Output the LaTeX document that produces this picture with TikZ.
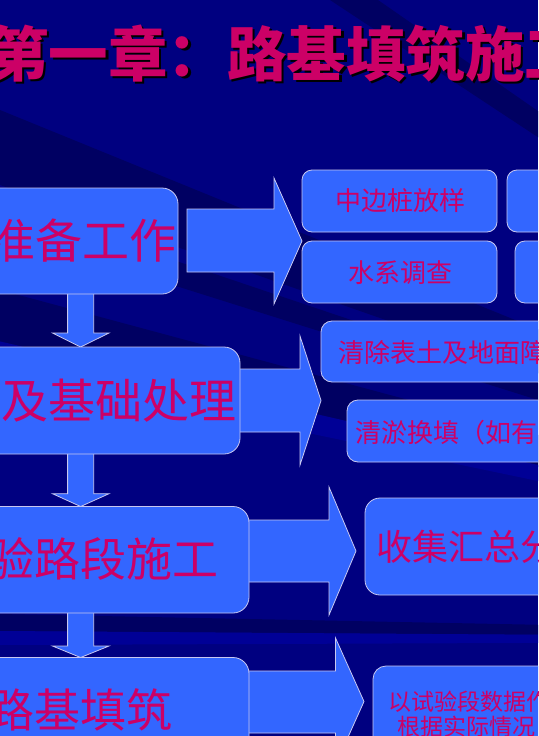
\documentclass[tikz,border=0pt]{standalone}
\usepackage{fontspec}
\newfontfamily\cjk{Noto Sans CJK SC}
\usetikzlibrary{calc}
\definecolor{bgbase}{RGB}{0,0,128}
\definecolor{bgdark}{RGB}{0,0,98}
\definecolor{bglight}{RGB}{0,0,150}
\definecolor{boxblue}{RGB}{51,102,255}
\definecolor{edgec}{RGB}{200,200,240}
\definecolor{txtc}{RGB}{204,0,102}
\begin{document}
\begin{tikzpicture}[x=1pt,y=-1pt,
  box/.style={fill=boxblue,draw=edgec,line width=0.8pt},
  blockarrow/.style={fill=boxblue,draw=edgec,line width=0.8pt,line join=miter},
  txt/.style={inner sep=0pt,text=txtc,anchor=base west},
  bigtxt/.style={txt,font=\cjk\fontsize{47}{47}\selectfont},
  midtxt/.style={txt,font=\cjk\fontsize{46}{46}\selectfont},
  smalltxt/.style={txt,font=\cjk\fontsize{26}{26}\selectfont},
  tinytxt/.style={txt,font=\cjk\fontsize{23}{23}\selectfont},
  titletxt/.style={inner sep=0pt,anchor=base west,font=\cjk\bfseries\fontsize{59.5}{59.5}\selectfont}]
\useasboundingbox (0,0) rectangle (538,736);
\clip (0,0) rectangle (538,736);
% background
\fill[bgbase] (0,0) rectangle (538,736);
\coordinate (C) at (1300,640);
\fill[bgdark] (C) -- ($(C)!4!(330,0)$) -- ($(C)!4!(378,0)$) -- cycle;
\fill[bgdark] (C) -- ($(C)!4!(0,110)$) -- ($(C)!4!(0,185)$) -- cycle;
\fill[bgdark] (C) -- ($(C)!4!(0,290)$) -- ($(C)!4!(0,345)$) -- cycle;
\fill[bgdark] (C) -- ($(C)!4!(538,383)$) -- ($(C)!4!(538,400)$) -- cycle;
\fill[bgdark] (C) -- ($(C)!4!(0,614)$) -- ($(C)!4!(0,631)$) -- cycle;
\fill[bglight] (C) -- ($(C)!4!(538,465)$) -- ($(C)!4!(538,481)$) -- cycle;
\fill[bglight] (C) -- ($(C)!4!(0,631)$) -- ($(C)!4!(0,645)$) -- cycle;
% title
\node[titletxt,text=black] (titleshadow) at (-8.5,78.5) {第一章：路基填筑施工};
\node[titletxt,text=txtc] (title) at (-11,76) {第一章：路基填筑施工};
% right block arrows
\draw[blockarrow] (187,209) -- (274,209) -- (274,178) -- (302,241) -- (274,304) -- (274,272) -- (187,272) -- cycle;
\draw[blockarrow] (230,369) -- (300,369) -- (300,336) -- (321,400.5) -- (300,465) -- (300,432) -- (230,432) -- cycle;
\draw[blockarrow] (240,520) -- (329,520) -- (329,487) -- (356,551) -- (329,615) -- (329,582) -- (240,582) -- cycle;
\draw[blockarrow] (240,671) -- (335.5,671) -- (335.5,638) -- (364,701.5) -- (335.5,765) -- (335.5,733) -- (240,733) -- cycle;
% down block arrows
\draw[blockarrow] (67.6,288) -- (67.6,333) -- (52.5,333) -- (80.6,347) -- (109,333) -- (93.7,333) -- (93.7,288) -- cycle;
\draw[blockarrow] (67.6,448) -- (67.6,493.7) -- (52.5,493.7) -- (80.6,506.5) -- (109,493.7) -- (93.7,493.7) -- (93.7,448) -- cycle;
\draw[blockarrow] (67.6,607) -- (67.6,646) -- (52.5,646) -- (80.6,657.5) -- (109,646) -- (93.7,646) -- (93.7,607) -- cycle;
% main boxes
\draw[box,rounded corners=16pt] (-30,188) rectangle (178,294);
\draw[box,rounded corners=16pt] (-30,347) rectangle (240,454);
\draw[box,rounded corners=16pt] (-30,506.5) rectangle (249,613);
\draw[box,rounded corners=16pt] (-30,657.5) rectangle (249,800);
% right boxes
\draw[box,rounded corners=10pt] (302,170) rectangle (497,232);
\draw[box,rounded corners=10pt] (302,241) rectangle (497,303);
\draw[box,rounded corners=10pt] (507,170) rectangle (600,232);
\draw[box,rounded corners=10pt] (515,241) rectangle (600,303);
\draw[box,rounded corners=11pt] (321,321) rectangle (600,382);
\draw[box,rounded corners=11pt] (347,400) rectangle (600,462);
\draw[box,rounded corners=15pt] (365,498) rectangle (600,595);
\draw[box,rounded corners=13pt] (373,666) rectangle (600,800);
% main texts
\node[bigtxt] (t1) at (-12,258) {准备工作};
\node[bigtxt] (t2) at (1,418) {及基础处理};
\node[midtxt] (t3) at (-12,576.5) {验路段施工};
\node[midtxt] (t4) at (-12,727.5) {路基填筑};
% right texts
\node[smalltxt,anchor=base] (r1) at (400,210.5) {中边桩放样};
\node[smalltxt,anchor=base] (r2) at (400.5,282) {水系调查};
\node[smalltxt] (r3) at (338,362) {清除表土及地面障};
\node[smalltxt] (r4) at (355,442) {清淤换填（如有};
\node[txt,font=\cjk\fontsize{36}{36}\selectfont] (r5) at (376,560.5) {收集汇总分};
\node[tinytxt] (r6) at (388,710.5) {以试验段数据作};
\node[tinytxt] (r7) at (397,735.5) {根据实际情况};
\end{tikzpicture}
\end{document}
